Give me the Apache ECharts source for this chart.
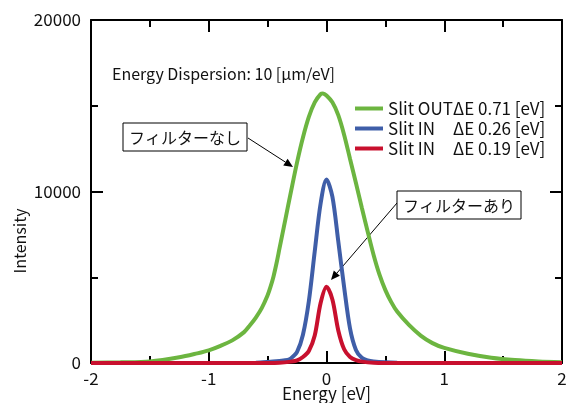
<!DOCTYPE html>
<html>
<head>
<meta charset="utf-8">
<script src="https://cdn.jsdelivr.net/npm/echarts@6/dist/echarts.min.js"></script>
<style>
html,body{margin:0;padding:0;background:#fff;}
#c{width:570px;height:403px;}
</style>
</head>
<body>
<div id="c"></div>
<script>
// ---- data ----
const slitLabels = ['Slit OUT', 'Slit IN', 'Slit IN'];
const deltaLabels = ['ΔE 0.71 [eV]', 'ΔE 0.26 [eV]', 'ΔE 0.19 [eV]'];
const seriesNames = ['Slit OUT ΔE 0.71', 'Slit IN ΔE 0.26', 'Slit IN ΔE 0.19'];

const xTickLabels = ['-2', '-1', '0', '1', '2'];
const yTickLabels = ['0', '10000', '20000'];

const energyGreen = [-2, -1.75, -1.5, -1.25, -1.1, -1.0, -0.9, -0.8, -0.7, -0.65, -0.6, -0.55, -0.5, -0.475, -0.45, -0.425, -0.4, -0.375, -0.35, -0.3, -0.25, -0.2, -0.15, -0.1, -0.05, -0.03, 0, 0.05, 0.1, 0.15, 0.2, 0.25, 0.3, 0.35, 0.4, 0.45, 0.5, 0.55, 0.6, 0.7, 0.8, 0.9, 1.0, 1.2, 1.4, 1.6, 1.8, 2.0];
const intensityGreen = [20, 40, 90, 330, 560, 740, 1000, 1320, 1800, 2200, 2650, 3200, 3950, 4450, 5050, 5800, 6650, 7500, 8350, 10050, 11700, 13150, 14350, 15200, 15680, 15720, 15600, 15200, 14450, 13300, 11900, 10500, 9050, 7650, 6300, 5150, 4250, 3550, 3000, 2220, 1600, 1160, 880, 540, 310, 170, 90, 50];

const energyBlue = [-2, -1, -0.6, -0.5, -0.4, -0.33, -0.3, -0.25, -0.2, -0.15, -0.1, -0.05, 0, 0.05, 0.1, 0.15, 0.2, 0.25, 0.3, 0.35, 0.4, 0.5, 0.6, 1.0, 2.0];
const intensityBlue = [0, 0, 20, 60, 120, 174, 280, 650, 1650, 3600, 6500, 9300, 10700, 9700, 7100, 4400, 2000, 760, 300, 150, 90, 40, 20, 0, 0];

const energyRed = [-2, -0.5, -0.4, -0.3, -0.25, -0.2, -0.15, -0.1, -0.05, 0, 0.05, 0.1, 0.15, 0.2, 0.25, 0.3, 0.4, 0.5, 2.0];
const intensityRed = [0, 0, 10, 80, 150, 350, 700, 1600, 3500, 4450, 3700, 1900, 800, 350, 170, 80, 10, 0, 0];

const annotationDispersion = 'Energy Dispersion: 10 [μm/eV]';
const annotationNoFilter = 'フィルターなし';
const annotationFilter = 'フィルターあり';

// ---- chart ----
const FONT = '"Noto Sans CJK JP", "Noto Sans", sans-serif';
const colors = ['#6cb540', '#3f5ea8', '#c8102e'];
const pairs = (xs, ys) => xs.map((x, i) => [x, ys[i]]);

function arrow(x1, y1, x2, y2) {
  const a = Math.atan2(y2 - y1, x2 - x1), L = 9, W = 4;
  const bx = x2 - L * Math.cos(a), by = y2 - L * Math.sin(a);
  return [
    { type: 'line', shape: { x1: x1, y1: y1, x2: bx, y2: by }, style: { stroke: '#000', lineWidth: 1 } },
    { type: 'polygon', shape: { points: [[x2, y2], [bx - W * Math.sin(a), by + W * Math.cos(a)], [bx + W * Math.sin(a), by - W * Math.cos(a)]] }, style: { fill: '#000' } }
  ];
}
function boxText(x, y, w, h, text) {
  return [
    { type: 'rect', shape: { x: x, y: y, width: w, height: h }, style: { fill: '#fff', stroke: '#000', lineWidth: 1 } },
    { type: 'text', x: x + w / 2, y: y + h / 2 + 1, style: { text: text, align: 'center', verticalAlign: 'middle', font: '16px ' + FONT, fill: '#111' } }
  ];
}

const axisCommon = {
  min: -2, max: 2, interval: 1,
  axisLine: { show: true, onZero: false, lineStyle: { color: '#000', width: 2 } },
  axisTick: { show: true, inside: true, length: 12, lineStyle: { color: '#000', width: 2 } },
  minorTick: { show: true, splitNumber: 2, length: 7, lineStyle: { color: '#000', width: 2 } },
  splitLine: { show: false }, minorSplitLine: { show: false }
};
const yCommon = Object.assign({}, axisCommon, { min: 0, max: 20000, interval: 10000 });

const chart = echarts.init(document.getElementById('c'), null, { renderer: 'canvas' });
chart.setOption({
  animation: false,
  backgroundColor: '#fff',
  textStyle: { fontFamily: FONT },
  grid: { left: 91, right: 8, top: 20, bottom: 40, containLabel: false, outerBoundsMode: 'none' },
  xAxis: [
    Object.assign({}, axisCommon, {
      type: 'value', position: 'bottom',
      name: 'Energy [eV]', nameLocation: 'middle', nameGap: 22, nameMoveOverlap: false,
      nameTextStyle: { fontSize: 17, color: '#111', fontFamily: FONT },
      axisLabel: { fontSize: 17, color: '#111', margin: 7, fontFamily: FONT,
        formatter: v => xTickLabels[Math.round(v) + 2] }
    }),
    Object.assign({}, axisCommon, { type: 'value', position: 'top', axisLabel: { show: false } })
  ],
  yAxis: [
    Object.assign({}, yCommon, {
      type: 'value', position: 'left',
      axisLabel: { fontSize: 17, color: '#111', margin: 10, fontFamily: FONT,
        formatter: v => yTickLabels[Math.round(v / 10000)] }
    }),
    Object.assign({}, yCommon, { type: 'value', position: 'right', axisLabel: { show: false } })
  ],
  legend: {
    orient: 'vertical', left: 350, top: 95, itemGap: 3,
    icon: 'rect', itemWidth: 28, itemHeight: 4,
    data: seriesNames,
    formatter: name => {
      const i = seriesNames.indexOf(name);
      return '{a|' + slitLabels[i] + '}{b|' + deltaLabels[i] + '}';
    },
    textStyle: {
      fontFamily: FONT, fontSize: 17, color: '#111',
      rich: {
        a: { fontFamily: FONT, fontSize: 17, color: '#111', width: 65 },
        b: { fontFamily: FONT, fontSize: 17, color: '#111' }
      }
    }
  },
  series: [
    { name: seriesNames[0], type: 'line', data: pairs(energyGreen, intensityGreen), color: colors[0] },
    { name: seriesNames[1], type: 'line', data: pairs(energyBlue, intensityBlue), color: colors[1] },
    { name: seriesNames[2], type: 'line', data: pairs(energyRed, intensityRed), color: colors[2] }
  ].map(s => Object.assign(s, {
    showSymbol: false, symbol: 'none', smooth: 0.3,
    lineStyle: { width: 4, color: s.color }, itemStyle: { color: s.color }
  })),
  graphic: [
    { type: 'text', x: 112, y: 74, style: { text: annotationDispersion, verticalAlign: 'middle', font: '16px ' + FONT, fill: '#111' } },
    { type: 'text', x: 20, y: 241, rotation: Math.PI / 2, style: { text: 'Intensity', align: 'center', verticalAlign: 'middle', font: '16px ' + FONT, fill: '#111' } },
    ...arrow(248, 138, 293, 167),
    ...boxText(123, 123, 124, 28, annotationNoFilter),
    ...arrow(397, 203, 331, 280),
    ...boxText(397, 191, 124, 28, annotationFilter)
  ]
});
</script>
</body>
</html>
